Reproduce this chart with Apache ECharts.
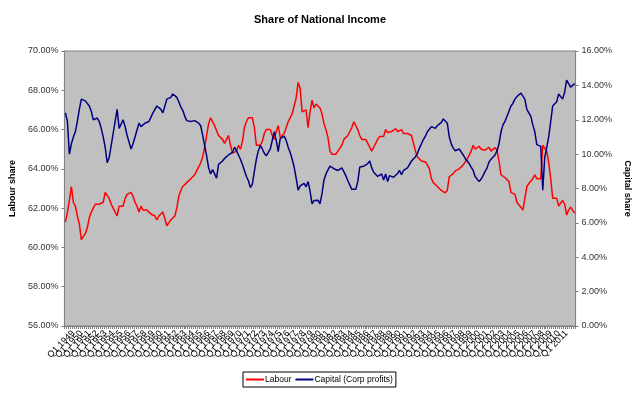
<!DOCTYPE html>
<html>
<head>
<meta charset="utf-8">
<script src="https://cdn.jsdelivr.net/npm/echarts@6/dist/echarts.min.js"></script>
<style>html,body{margin:0;padding:0;background:#fff}#c{width:640px;height:393px}</style>
</head>
<body>
<div id="c"></div>
<script>
// Quarterly categories 1948 Q1 .. 2012 Q1
var startYear = 1948, endYear = 2012;
var quarters = [];
for (var y = startYear; y <= endYear; y++) {
  for (var q = 1; q <= 4; q++) {
    if (y === endYear && q > 1) break;
    quarters.push('Q' + q + ' ' + y);
  }
}
var leftTicks = {min: 56, max: 70, interval: 2};
var rightTicks = {min: 0, max: 16, interval: 2};

// Labour share (%), left axis
var labour = [
61.3,61.8,62.4,63.1,62.3,62.1,61.6,61.2,60.4,60.5,60.7,61.0,61.5,61.8,62.0,62.2,62.2,62.2,62.2,62.3,
62.8,62.7,62.5,62.2,62.0,61.9,61.6,62.1,62.1,62.1,62.5,62.7,62.8,62.8,62.6,62.3,62.1,61.8,62.1,61.9,
61.8,61.9,61.8,61.7,61.7,61.6,61.4,61.6,61.7,61.8,61.8,61.1,61.1,61.4,61.5,61.6,62.0,62.6,62.9,63.1,
63.2,63.3,63.4,63.5,63.6,63.7,63.9,64.1,64.3,64.6,65.1,65.7,66.3,66.6,66.4,66.2,66.3,65.7,65.6,65.5,
65.3,65.5,65.7,65.2,64.8,64.7,64.9,65.2,65.0,65.4,66.1,66.4,66.6,66.7,66.6,66.1,65.2,65.1,65.2,65.4,
65.8,66.0,66.1,66.0,65.7,65.5,65.9,66.2,65.6,65.7,65.8,66.1,66.4,66.6,66.8,67.2,67.6,68.4,68.1,66.9,
66.8,67.0,66.1,66.9,67.5,67.1,67.3,67.4,67.1,66.8,66.3,66.0,65.6,64.9,64.75,64.75,64.75,64.9,65.0,65.2,
65.5,65.6,65.7,65.9,66.1,66.4,66.5,66.0,65.7,65.5,65.5,65.5,65.4,65.1,64.9,65.1,65.2,65.5,65.65,65.7,
65.65,66.0,65.85,65.8,65.9,66.0,66.05,65.9,65.9,66.0,65.8,65.7,65.8,65.9,65.7,65.3,64.9,64.6,64.6,64.4,
64.3,64.35,64.2,64.0,63.5,63.3,63.25,63.1,63.0,62.9,62.85,62.78,62.9,63.6,63.7,63.76,63.9,63.95,64.0,64.0,
64.2,64.35,64.5,64.55,64.9,65.2,65.0,64.9,65.15,65.0,65.1,64.95,65.0,65.1,64.9,64.95,65.08,64.95,64.4,63.7,
63.6,63.56,63.5,63.35,62.8,62.75,62.7,62.3,62.2,62.05,61.9,62.5,63.1,63.25,63.3,63.5,63.7,63.5,63.4,63.5,
65.2,65.1,64.9,64.3,63.5,62.5,62.4,62.5,62.1,62.0,62.4,62.2,61.65,61.9,62.05,62.0,61.75
];
// Capital share (Corp profits, %), right axis
var capital = [
12.4,11.9,10.0,10.6,11.0,11.3,11.9,12.6,13.2,13.1,13.1,13.1,12.8,12.5,12.0,11.9,12.1,11.9,11.5,11.0,
10.4,9.5,9.8,10.5,11.2,11.9,12.6,11.5,11.5,12.0,11.6,11.1,10.7,10.3,10.6,11.0,11.4,11.8,11.6,11.7,
11.8,11.9,11.9,12.0,12.4,12.4,12.8,12.7,12.6,12.4,12.3,13.2,13.2,13.3,13.5,13.45,13.3,13.05,12.75,12.55,
12.2,11.95,11.95,11.9,11.95,11.95,11.85,11.8,11.65,11.1,10.5,9.9,9.2,8.85,9.1,9.05,8.6,9.4,9.5,9.6,
9.75,9.85,9.95,10.0,10.1,10.4,10.2,9.95,9.7,9.4,9.05,8.7,8.45,8.05,8.25,9.0,9.7,10.2,10.5,10.3,
10.05,9.9,9.8,10.3,10.8,11.3,10.8,10.15,10.9,11.0,11.05,10.8,10.4,10.1,9.7,9.25,8.6,7.9,8.15,8.25,
8.3,8.1,8.4,7.85,7.1,7.3,7.32,7.32,7.1,7.7,8.5,8.85,8.95,9.3,9.25,9.15,9.1,9.05,8.97,9.2,
9.1,8.75,8.45,8.2,7.95,7.9,7.95,8.4,9.25,9.25,9.3,9.35,9.45,9.6,9.2,8.95,8.85,8.7,8.6,8.85,
8.5,8.85,8.4,8.75,8.85,8.65,8.75,8.87,9.05,8.8,9.05,9.1,9.2,9.3,9.6,9.7,9.85,10.05,10.35,10.6,
10.85,11.05,11.3,11.45,11.6,11.55,11.5,11.65,11.75,11.85,12.05,12.15,11.8,11.0,10.6,10.35,10.2,10.25,10.3,10.2,
9.95,9.75,9.6,9.45,9.25,9.05,8.7,8.75,8.4,8.55,8.75,9.0,9.2,9.55,9.7,9.8,9.95,10.2,10.6,11.3,
11.7,11.9,12.0,12.5,12.8,12.95,13.2,13.35,13.45,13.55,13.6,13.2,12.6,12.65,12.2,11.7,11.3,10.55,10.45,10.45,
7.9,9.8,10.4,11.0,11.9,12.8,12.85,13.05,13.5,13.6,13.2,13.6,14.3,14.1,13.9,14.0,14.1
];

var FONT = '"Liberation Sans", Arial, sans-serif';
var chart = echarts.init(document.getElementById('c'), null, {renderer: 'canvas'});
chart.setOption({
  backgroundColor: '#ffffff',
  animation: false,
  textStyle: {fontFamily: FONT},
  title: {
    text: 'Share of National Income',
    left: 'center', top: 9,
    textStyle: {fontFamily: FONT, fontSize: 11, fontWeight: 'bold', color: '#000'}
  },
  legend: {
    left: 243, top: 372,
    orient: 'horizontal',
    padding: [3, 3, 3, 3],
    itemGap: 4,
    itemWidth: 18, itemHeight: 2,
    icon: 'rect',
    borderColor: '#000', borderWidth: 1, borderRadius: 0,
    textStyle: {fontFamily: FONT, fontSize: 8.5, color: '#000', padding: [0, 0, 0, -4]},
    data: ['Labour', 'Capital (Corp profits)']
  },
  grid: {
    left: 63, right: 62, top: 51, bottom: 67,
    show: true, backgroundColor: '#c0c0c0', borderColor: '#808080', borderWidth: 1,
    containLabel: false
  },
  xAxis: {
    type: 'category',
    data: quarters,
    boundaryGap: true,
    axisLine: {show: true, lineStyle: {color: '#808080'}},
    axisTick: {show: true, interval: 0, length: 3, lineStyle: {color: '#808080'}},
    axisLabel: {interval: 3, rotate: 45, fontSize: 9, color: '#000', fontFamily: FONT, margin: 6}
  },
  yAxis: [{
    type: 'value',
    min: leftTicks.min, max: leftTicks.max, interval: leftTicks.interval,
    position: 'left',
    name: 'Labour share', nameLocation: 'middle', nameGap: 46,
    nameTextStyle: {fontFamily: FONT, fontSize: 9, fontWeight: 'bold', color: '#000'},
    axisLine: {show: true, lineStyle: {color: '#808080'}},
    axisTick: {show: true, length: 3, lineStyle: {color: '#808080'}},
    splitLine: {show: false},
    axisLabel: {fontSize: 9, color: '#333', fontFamily: FONT, margin: 6,
      formatter: function (v) { return v.toFixed(2) + '%'; }}
  }, {
    type: 'value',
    min: rightTicks.min, max: rightTicks.max, interval: rightTicks.interval,
    position: 'right',
    name: 'Capital share', nameLocation: 'middle', nameGap: 46, nameRotate: -90,
    nameTextStyle: {fontFamily: FONT, fontSize: 9, fontWeight: 'bold', color: '#000'},
    axisLine: {show: true, lineStyle: {color: '#808080'}},
    axisTick: {show: true, length: 3, lineStyle: {color: '#808080'}},
    splitLine: {show: false},
    axisLabel: {fontSize: 9, color: '#333', fontFamily: FONT, margin: 6,
      formatter: function (v) { return v.toFixed(2) + '%'; }}
  }],
  series: [{
    name: 'Labour', type: 'line', yAxisIndex: 0, data: labour,
    symbol: 'none', itemStyle: {color: '#ff0000'},
    lineStyle: {color: '#ff0000', width: 1.5}
  }, {
    name: 'Capital (Corp profits)', type: 'line', yAxisIndex: 1, data: capital,
    symbol: 'none', itemStyle: {color: '#000080'},
    lineStyle: {color: '#000080', width: 1.5}
  }]
});
</script>
</body>
</html>
